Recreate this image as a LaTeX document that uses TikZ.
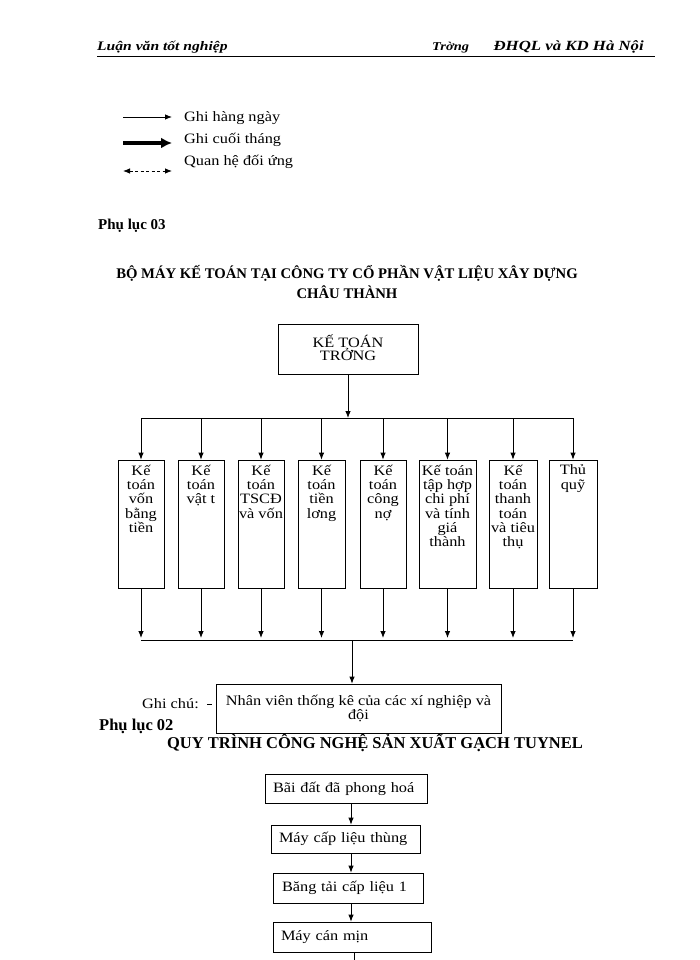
\documentclass[tikz,border=0pt]{standalone}
\usepackage{fontspec}
\setmainfont{Liberation Serif}[FakeStretch=1.14]
\newfontfamily\plainserif{Liberation Serif}
\newfontfamily\hdrfont{Liberation Serif}[FakeStretch=1.2]
\usetikzlibrary{positioning,arrows.meta}
\tikzset{ %
  ,>={Latex[length=7pt,width=5.5pt]}
  ,every node/.style={font=\fontsize{14.3}{14.3}\selectfont, inner sep=0}
  ,line/.style={line width=0.8pt}
  ,topbox/.style={draw, line width=0.8pt, minimum width=140pt, minimum height=50pt}
  ,acct/.style={draw, line width=0.8pt, minimum height=128pt}
  ,accttxt/.style={anchor=north, align=center, yshift=-5pt}
  ,flowbox/.style={draw, line width=0.8pt, align=left, inner xsep=8pt}
  ,heading/.style={font=\plainserif\fontsize{15}{16}\selectfont\bfseries}
  ,header/.style={font=\hdrfont\fontsize{13}{13}\selectfont\bfseries\itshape}
}

\begin{document}
\begin{tikzpicture}[x=1pt, y=-1pt]
  \useasboundingbox (0,0) rectangle (700,960);
  % header
  \node[header, anchor=base west] (hl) at (97,51) {Luận văn tốt nghiệp};
  \node[header, anchor=base west, font=\hdrfont\fontsize{12}{12}\selectfont\bfseries\itshape] (hr1) at (432,51) {Trờng};
  \node[header, anchor=base east, font=\hdrfont\fontsize{14}{14}\selectfont\bfseries\itshape] (hr2) at (644,51) {ĐHQL và KD Hà Nội};
  \coordinate (hl0) at (97,56);
  \coordinate (hr0) at (655,56);
  \draw[line] (hl0) -- (hr0);
  % legend
  \coordinate (la) at (123,117); \coordinate (lb) at (172,117);
  \coordinate (lc) at (123,143); \coordinate (ld) at (172,143);
  \coordinate (le) at (123,171); \coordinate (lf) at (172,171);
  \draw[line, ->] (la) -- (lb);
  \draw[line width=3.5pt, -{Latex[length=11pt,width=11pt]}] (lc) -- (ld);
  \draw[line, dash pattern=on 3pt off 2.5pt, <->] (le) -- (lf);
  \node[anchor=west] (g1) at (184,118) {Ghi hàng ngày};
  \node[anchor=west] (g2) at (184,140) {Ghi cuối tháng};
  \node[anchor=west] (g3) at (184,162) {Quan hệ đối ứng};
  % tieu de
  \node[heading, anchor=west] (pl3) at (98,226) {Phụ lục 03};
  \node[heading, align=center, font=\plainserif\fontsize{14.7}{20.5}\selectfont\bfseries] (tt) at (347,282) {BỘ MÁY KẾ TOÁN TẠI CÔNG TY CỔ PHẦN VẬT LIỆU XÂY DỰNG\\CHÂU THÀNH};
  % so do bo may
  \node[topbox] (kt) at (348,349) {};
  \node[accttxt, yshift=-6pt, font=\fontsize{14.3}{12}\selectfont] (ktt) at (kt.north) {KẾ TOÁN\\TRỞNG};
  \node[acct, minimum width=46pt] (k1) at (141,524) {};
  \node[acct, minimum width=46pt] (k2) at (201,524) {};
  \node[acct, minimum width=46pt] (k3) at (261,524) {};
  \node[acct, minimum width=47pt] (k4) at (321.5,524) {};
  \node[acct, minimum width=46pt] (k5) at (383,524) {};
  \node[acct, minimum width=57pt] (k6) at (447.5,524) {};
  \node[acct, minimum width=48pt] (k7) at (513,524) {};
  \node[acct, minimum width=48pt] (k8) at (573,524) {};
  \node[accttxt] (t1) at (k1.north) {Kế\\toán\\vốn\\bằng\\tiền};
  \node[accttxt] (t2) at (k2.north) {Kế\\toán\\vật t};
  \node[accttxt] (t3) at (k3.north) {Kế\\toán\\TSCĐ\\và vốn};
  \node[accttxt] (t4) at (k4.north) {Kế\\toán\\tiền\\lơng};
  \node[accttxt] (t5) at (k5.north) {Kế\\toán\\công\\nợ};
  \node[accttxt] (t6) at (k6.north) {Kế toán\\tập hợp\\chi phí\\và tính\\giá\\thành};
  \node[accttxt] (t7) at (k7.north) {Kế\\toán\\thanh\\toán\\và tiêu\\thụ};
  \node[accttxt] (t8) at (k8.north) {Thủ\\quỹ};
  \coordinate (bus1) at (348,418);
  \coordinate (bus2) at (352,640);
  \draw[line, ->] (kt) -- (bus1);
  \draw[line] (k1.north |- bus1) -- (k8.north |- bus1);
  \draw[line] (k1.north |- bus1) edge[->] (k1.north) (k2.north |- bus1) edge[->] (k2.north)
    (k3.north |- bus1) edge[->] (k3.north) (k4.north |- bus1) edge[->] (k4.north)
    (k5.north |- bus1) edge[->] (k5.north) (k6.north |- bus1) edge[->] (k6.north)
    (k7.north |- bus1) edge[->] (k7.north) (k8.north |- bus1) edge[->] (k8.north);
  \draw[line, shorten >=2pt] (k1.south) edge[->] (k1.south |- bus2) (k2.south) edge[->] (k2.south |- bus2)
    (k3.south) edge[->] (k3.south |- bus2) (k4.south) edge[->] (k4.south |- bus2)
    (k5.south) edge[->] (k5.south |- bus2) (k6.south) edge[->] (k6.south |- bus2)
    (k7.south) edge[->] (k7.south |- bus2) (k8.south) edge[->] (k8.south |- bus2);
  \draw[line] (k1.south |- bus2) -- (k8.south |- bus2);
  \node[draw, line width=0.8pt, minimum width=285pt, minimum height=49pt] (nv) at (358.5,708.5) {};
  \node[accttxt, yshift=-6pt] (nvt) at (nv.north) {Nhân viên thống kê của các xí nghiệp và\\đội};
  \draw[line, ->] (bus2) -- (bus2 |- nv.north);
  \node[anchor=east] (gc) at (199,704) {Ghi chú:};
  \draw[line] ([xshift=8pt]gc.east) -- ([xshift=-4pt]nv.west |- gc.east);
  % quy trinh
  \node[heading, anchor=west, font=\plainserif\fontsize{16.5}{17}\selectfont\bfseries] (pl2) at (99,726) {Phụ lục 02};
  \node[heading, font=\plainserif\fontsize{16.5}{17}\selectfont\bfseries] (qt) at (375,743) {QUY TRÌNH CÔNG NGHỆ SẢN XUẤT GẠCH TUYNEL};
  \node[flowbox, text width=146pt, minimum height=29pt] (f1) at (346,788.5) {Bãi đất đã phong hoá};
  \node[flowbox, text width=133pt, minimum height=28pt] (f2) at (345.5,839) {Máy cấp liệu thùng};
  \node[flowbox, text width=132pt, minimum height=30pt, inner xsep=9pt] (f3) at (348,888) {Băng tải cấp liệu 1};
  \node[flowbox, text width=142pt, minimum height=30pt] (f4) at (352,937) {Máy cán mịn};
  \coordinate (ax) at (351,0);
  \coordinate (fend) at (354,961);
  \draw[line] (f1.south -| ax) edge[->] (f2.north -| ax) (f2.south -| ax) edge[->] (f3.north -| ax)
    (f3.south -| ax) edge[->] (f4.north -| ax);
  \draw[line] (f4.south -| fend) -- (fend);
\end{tikzpicture}
\end{document}
